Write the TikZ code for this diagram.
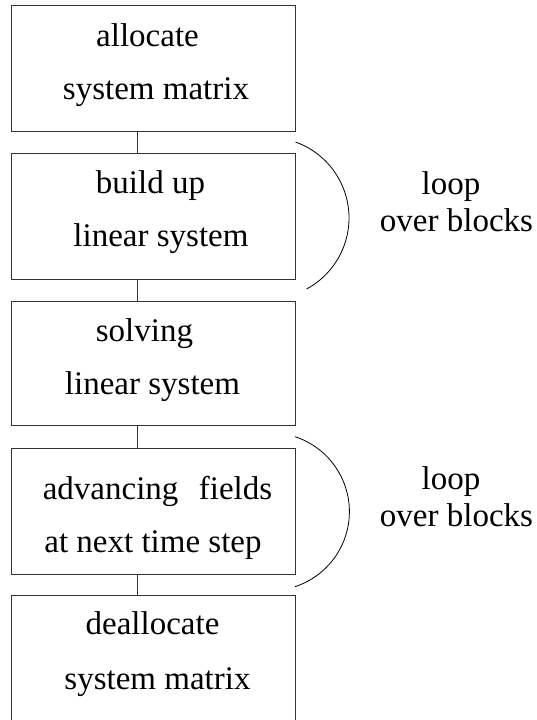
\documentclass[tikz,border=0pt]{standalone}
\usepackage{fontspec}
\setmainfont{Liberation Serif}
\begin{document}
\begin{tikzpicture}[x=1pt,y=1pt,
  stagebox/.style={draw=black!80, line width=0.9pt, rectangle,
    minimum width=284pt, inner sep=0pt},
  txt/.style={anchor=base, inner sep=0pt, font=\fontsize{33}{40}\selectfont},
  link/.style={draw=black!80, line width=0.9pt},
  loopline/.style={draw=black, line width=0.8pt}]
\useasboundingbox (0,0) rectangle (536,720);

% stage boxes
\node[stagebox, minimum height=126pt] (b1) at (153,652) {};
\node[stagebox, minimum height=126pt] (b2) at (153,504) {};
\node[stagebox, minimum height=124pt] (b3) at (153,357) {};
\node[stagebox, minimum height=126pt] (b4) at (153,209) {};
\node[stagebox, minimum height=126pt] (b5) at (153,62) {};

% box texts
\node[txt] (t1a) at (147.5,673) {allocate};
\node[txt] (t1b) at (156,620) {system matrix};
\node[txt] (t2a) at (150.5,526) {build up};
\node[txt] (t2b) at (161,473) {linear system};
\node[txt] (t3a) at (144.5,378) {solving};
\node[txt] (t3b) at (152.5,325) {linear system};
\node[txt] (t4a) at (157.5,220) {advancing\hspace{0.62em}fields};
\node[txt] (t4b) at (153,167) {at next time step};
\node[txt] (t5a) at (152.5,85) {deallocate};
\node[txt] (t5b) at (157.5,30) {system matrix};

% vertical links between stages
\coordinate (lx) at (137,0);
\draw[link] (b1.south -| lx) -- (b2.north -| lx);
\draw[link] (b2.south -| lx) -- (b3.north -| lx);
\draw[link] (b3.south -| lx) -- (b4.north -| lx);
\draw[link] (b4.south -| lx) -- (b5.north -| lx);

% loop brackets
\draw[loopline] (295.5,578) arc[start angle=70.3, end angle=-61.6, radius=80.7];
\draw[loopline] (295,283.3) arc[start angle=71.9, end angle=-71.9, radius=78.9];

% loop labels
\node[txt] (l1a) at (451,525) {loop};
\node[txt] (l1b) at (456.5,488) {over blocks};
\node[txt] (l2a) at (451,230) {loop};
\node[txt] (l2b) at (456.5,193) {over blocks};
\end{tikzpicture}
\end{document}
